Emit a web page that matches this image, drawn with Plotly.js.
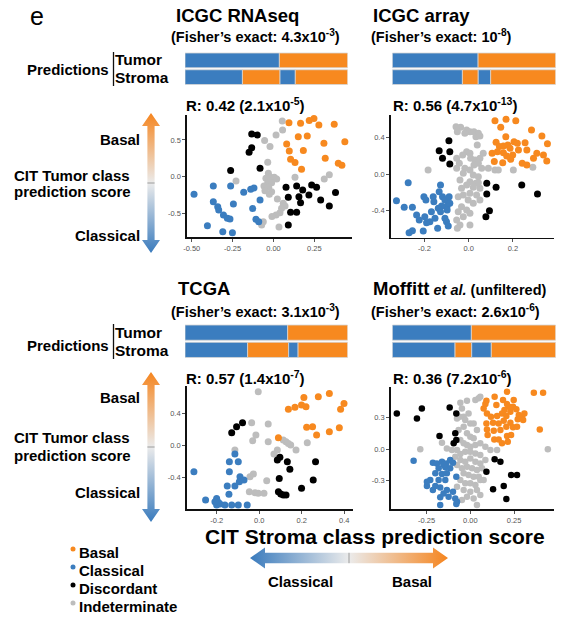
<!DOCTYPE html>
<html><head><meta charset="utf-8">
<script src="https://cdn.plot.ly/plotly-3.0.1.min.js"></script>
<style>html,body{margin:0;padding:0;background:#fff;} #chart{width:564px;height:625px;}</style>
</head><body><div id="chart"></div>
<script>
const W = 564, H = 625;
const classNames = ['Basal', 'Classical', 'Discordant', 'Indeterminate'];
const classColors = ['#f7891f', '#3b7dbf', '#000000', '#bdbdbd'];
const FONT = 'Liberation Sans, Arial, Helvetica, sans-serif';

// ---------- ICGC RNAseq ----------
const rnaseqBasal = [[0.095,0.736],[0.166,0.727],[0.219,0.764],[0.248,0.791],[0.278,0.705],[0.372,0.714],[0.152,0.545],[0.207,0.555],[0.081,0.445],[0.309,0.455],[0.437,0.477],[0.097,0.350],[0.183,0.355],[0.317,0.250],[0.105,0.236],[0.132,0.191],[0.172,0.100],[0.397,0.182],[0.419,0.155]];
const rnaseqClassical = [[-0.486,-0.241],[-0.368,-0.127],[-0.262,-0.127],[-0.182,-0.214],[-0.139,-0.173],[-0.119,-0.155],[-0.368,-0.341],[-0.341,-0.409],[-0.335,-0.455],[-0.245,-0.373],[-0.082,-0.318],[-0.306,-0.523],[-0.282,-0.568],[-0.266,-0.577],[-0.127,-0.436],[-0.107,-0.582],[-0.090,-0.614],[-0.404,-0.668],[-0.310,-0.750],[-0.251,-0.764]];
const rnaseqDiscordant = [[-0.133,0.582],[-0.099,0.568],[-0.133,0.395],[-0.149,0.332],[-0.262,0.082],[-0.082,0.114],[0.077,-0.145],[0.142,-0.127],[0.234,-0.114],[0.264,-0.145],[0.179,-0.182],[0.091,-0.282],[0.156,-0.273],[0.217,-0.250],[0.380,-0.218],[0.289,-0.318],[0.166,-0.355],[0.342,-0.400],[0.105,-0.486],[0.142,-0.486],[0.091,-0.659]];
const rnaseqIndet = [[0.054,0.759],[0.056,0.636],[0.016,0.568],[-0.054,0.491],[-0.021,0.409],[-0.035,0.195],[-0.229,-0.059],[0.132,-0.009],[0.311,-0.032],[0.342,0.027],[-0.031,0.045],[-0.046,-0.023],[-0.017,-0.009],[0.005,-0.009],[0.020,-0.032],[-0.035,-0.082],[-0.011,-0.082],[-0.058,-0.127],[-0.029,-0.145],[-0.052,-0.191],[-0.011,-0.205],[-0.025,-0.241],[0.024,-0.305],[0.060,-0.364],[0.071,-0.400],[0.050,-0.432],[0.040,-0.491],[0.016,-0.523],[-0.009,-0.545],[-0.062,-0.614],[-0.072,-0.659],[0.034,-0.686]];
const rnaseqXTicks = [-0.5, -0.25, 0, 0.25], rnaseqXLabels = ['-0.50', '-0.25', '0.00', '0.25'];
const rnaseqYTicks = [-0.5, 0, 0.5], rnaseqYLabels = ['-0.5', '0.0', '0.5'];

// ---------- ICGC array ----------
const arrayBasal = [[0.119,0.590],[0.169,0.605],[0.213,0.590],[0.284,0.487],[0.145,0.517],[0.168,0.413],[0.205,0.358],[0.124,0.351],[0.220,0.339],[0.255,0.347],[0.331,0.421],[0.356,0.336],[0.139,0.303],[0.157,0.310],[0.177,0.321],[0.187,0.284],[0.157,0.236],[0.130,0.247],[0.106,0.229],[0.199,0.210],[0.225,0.266],[0.263,0.266],[0.308,0.229],[0.338,0.210],[0.353,0.144],[0.293,0.173],[0.242,0.118],[0.263,0.100],[0.154,0.125],[0.116,0.137],[0.190,0.162],[0.172,0.199]];
const arrayClassical = [[-0.273,-0.096],[-0.326,-0.295],[-0.291,-0.369],[-0.254,-0.369],[-0.235,-0.454],[-0.269,-0.649],[-0.205,-0.631],[-0.175,-0.528],[-0.152,-0.491],[-0.140,-0.601],[-0.202,-0.251],[-0.193,-0.288],[-0.160,-0.251],[-0.127,-0.122],[-0.133,-0.196],[-0.118,-0.251],[-0.107,-0.288],[-0.097,-0.354],[-0.085,-0.325],[-0.088,-0.251],[-0.122,-0.354],[-0.137,-0.380],[-0.097,-0.399],[-0.107,-0.491],[-0.100,-0.528],[-0.092,-0.576],[-0.127,-0.417],[-0.168,-0.417],[-0.198,-0.472],[-0.223,-0.509],[-0.190,-0.539],[-0.157,-0.306],[-0.254,-0.627]];
const arrayDiscordant = [[-0.089,0.369],[-0.133,0.258],[-0.085,0.247],[-0.118,0.173],[-0.085,0.111],[0.082,-0.103],[0.124,-0.148],[0.082,-0.221],[0.240,-0.122],[0.311,-0.221],[0.094,-0.406],[0.078,-0.472]];
const arrayIndet = [[-0.057,0.524],[-0.036,0.517],[-0.009,0.487],[0.006,0.469],[0.024,0.469],[0.044,0.450],[-0.051,0.469],[-0.017,0.450],[0.033,0.413],[0.051,0.421],[0.039,0.321],[-0.009,0.247],[0.006,0.229],[-0.027,0.210],[-0.054,0.173],[-0.042,0.118],[0.009,0.173],[0.029,0.155],[0.051,0.173],[0.066,0.229],[0.044,0.118],[0.024,0.100],[0.059,0.063],[0.089,0.063],[0.119,0.044],[0.134,0.044],[0.202,0.044],[0.290,0.074],[-0.183,0.044],[-0.054,0.063],[-0.017,0.063],[0.006,0.044],[-0.024,0.007],[0.021,-0.011],[0.044,-0.030],[-0.039,-0.066],[0.006,-0.085],[0.033,-0.103],[-0.009,-0.122],[-0.032,-0.159],[0.021,-0.148],[0.051,-0.159],[0.006,-0.214],[-0.024,-0.232],[0.036,-0.232],[-0.047,-0.251],[-0.002,-0.288],[0.051,-0.288],[0.021,-0.325],[-0.032,-0.362],[-0.009,-0.399],[-0.047,-0.417],[0.006,-0.435],[-0.024,-0.472],[-0.054,-0.509],[-0.039,-0.565],[0.006,-0.565],[-0.051,-0.601],[0.044,-0.096]];
const arrayXTicks = [-0.2, 0, 0.2], arrayXLabels = ['-0.2', '0.0', '0.2'];
const arrayYTicks = [-0.4, 0, 0.4], arrayYLabels = ['-0.4', '0.0', '0.4'];

// ---------- TCGA ----------
const tcgaBasal = [[0.210,0.606],[0.278,0.615],[0.330,0.656],[0.399,0.531],[0.383,0.456],[0.199,0.510],[0.168,0.481],[0.137,0.456],[0.220,0.489],[0.223,0.230],[0.251,0.238],[0.270,0.134],[0.330,0.176],[0.377,0.226],[0.090,0.100]];
const tcgaClassical = [[-0.308,-0.326],[-0.115,-0.105],[-0.141,-0.201],[-0.099,-0.201],[-0.141,-0.326],[-0.091,-0.389],[-0.094,-0.452],[-0.072,-0.431],[-0.151,-0.506],[-0.115,-0.506],[-0.143,-0.610],[-0.253,-0.681],[-0.201,-0.661],[-0.193,-0.711],[-0.185,-0.732],[-0.162,-0.744],[-0.201,-0.744],[-0.130,-0.744],[-0.099,-0.744],[-0.057,-0.744],[-0.209,-0.702]];
const tcgaDiscordant = [[-0.079,0.288],[-0.107,0.238],[-0.130,0.163],[0.085,-0.180],[0.097,-0.146],[0.132,-0.201],[0.144,-0.297],[0.094,-0.410],[0.265,-0.201],[0.254,-0.431],[0.199,-0.535],[0.090,-0.577],[0.101,-0.606],[0.113,-0.619],[0.126,-0.619]];
const tcgaIndet = [[-0.005,0.677],[-0.036,0.288],[0.042,0.272],[-0.016,0.134],[-0.031,0.063],[0.042,0.050],[0.113,0.071],[0.126,0.050],[0.137,0.029],[0.148,0.008],[0.173,-0.054],[0.226,0.038],[0.085,-0.054],[0.069,-0.105],[-0.115,-0.054],[-0.028,-0.355],[-0.044,-0.389],[0.035,-0.439],[-0.047,-0.577],[-0.020,-0.589],[-0.005,-0.598],[0.022,-0.598]];
const tcgaXTicks = [-0.2, 0, 0.2, 0.4], tcgaXLabels = ['-0.2', '0.0', '0.2', '0.4'];
const tcgaYTicks = [-0.8, -0.4, 0, 0.4], tcgaYLabels = ['-0.8', '-0.4', '0.0', '0.4'];

// ---------- Moffitt ----------
const moffittBasal = [[0.092,0.465],[0.139,0.504],[0.210,0.552],[0.363,0.542],[0.416,0.542],[0.086,0.433],[0.149,0.423],[0.210,0.433],[0.219,0.407],[0.195,0.375],[0.229,0.359],[0.244,0.407],[0.263,0.382],[0.277,0.327],[0.296,0.311],[0.309,0.343],[0.302,0.279],[0.181,0.343],[0.153,0.318],[0.206,0.318],[0.095,0.343],[0.118,0.311],[0.092,0.247],[0.130,0.253],[0.162,0.247],[0.191,0.273],[0.229,0.253],[0.271,0.286],[0.206,0.215],[0.244,0.209],[0.267,0.215],[0.095,0.189],[0.134,0.176],[0.172,0.183],[0.099,0.135],[0.137,0.093],[0.162,0.093],[0.181,0.055],[0.210,0.125],[0.233,0.135],[0.214,0.071],[0.397,0.189],[0.076,0.391],[0.248,0.472],[0.187,0.472]];
const moffittClassical = [[-0.324,-0.112],[-0.214,-0.132],[-0.191,-0.138],[-0.162,-0.122],[-0.137,-0.138],[-0.115,-0.106],[-0.099,-0.132],[-0.143,-0.176],[-0.115,-0.186],[-0.181,-0.186],[-0.200,-0.234],[-0.162,-0.241],[-0.134,-0.234],[-0.080,-0.266],[-0.229,-0.298],[-0.181,-0.298],[-0.143,-0.298],[-0.248,-0.356],[-0.200,-0.356],[-0.172,-0.369],[-0.214,-0.395],[-0.153,-0.427],[-0.134,-0.395],[-0.099,-0.411],[-0.172,-0.465],[-0.124,-0.459],[-0.086,-0.475],[-0.076,-0.507],[-0.172,-0.539],[-0.080,-0.529],[-0.248,-0.314],[-0.153,-0.154]];
const moffittDiscordant = [[-0.420,0.343],[-0.305,0.295],[-0.277,0.391],[-0.118,0.401],[-0.080,0.343],[-0.176,0.125],[-0.086,0.151],[-0.080,0.087],[-0.095,0.055],[0.139,-0.099],[0.172,-0.122],[0.092,-0.218],[0.233,-0.250],[0.267,-0.250],[0.130,-0.388],[0.191,-0.356],[0.206,-0.481]];
const moffittIndet = [[-0.057,0.446],[-0.019,0.465],[0.029,0.472],[0.048,0.488],[0.057,0.504],[-0.048,0.391],[-0.076,0.295],[-0.061,0.311],[-0.038,0.311],[-0.010,0.343],[-0.029,0.279],[0.000,0.247],[0.019,0.247],[0.038,0.183],[-0.038,0.215],[-0.067,0.183],[-0.019,0.151],[0.000,0.119],[0.019,0.103],[-0.057,0.087],[-0.038,0.055],[-0.019,0.038],[0.000,0.022],[0.029,0.038],[0.057,0.055],[0.086,0.022],[0.115,-0.010],[0.153,-0.010],[0.443,-0.003],[-0.286,-0.003],[-0.162,0.061],[-0.134,0.006],[-0.105,-0.010],[-0.076,-0.010],[-0.057,-0.048],[-0.029,-0.026],[0.000,-0.026],[0.029,-0.042],[0.057,-0.058],[-0.086,-0.074],[-0.057,-0.106],[-0.029,-0.122],[0.000,-0.090],[0.029,-0.122],[0.057,-0.138],[0.086,-0.106],[-0.076,-0.154],[-0.048,-0.186],[-0.019,-0.170],[0.010,-0.186],[0.038,-0.202],[0.067,-0.186],[-0.038,-0.234],[-0.010,-0.250],[0.019,-0.266],[0.048,-0.266],[-0.057,-0.298],[-0.029,-0.330],[0.000,-0.330],[0.029,-0.346],[0.057,-0.298],[-0.076,-0.363],[-0.038,-0.395],[0.000,-0.411],[0.038,-0.395],[-0.019,-0.459],[0.019,-0.475],[0.057,-0.443],[-0.048,-0.491],[0.038,-0.539],[0.076,-0.298]];
const moffittXTicks = [-0.25, 0, 0.25], moffittXLabels = ['-0.25', '0.00', '0.25'];
const moffittYTicks = [-0.3, 0, 0.3], moffittYLabels = ['-0.3', '0.0', '0.3'];

// ---------- prediction bars (fraction of samples along the bar) ----------
const predRows = ['Stroma', 'Tumor'];
const tumorClassicalFrac = [0.58, 0.525, 0.631, 0.484];          // Tumor: classical then basal
const stromaBreaks = [[0.353, 0.584, 0.678], [0.429, 0.526, 0.602], [0.385, 0.637, 0.695], [0.384, 0.486, 0.606]]; // Classical|Basal|Classical|Basal

// ---------- texts ----------
const datasetTitles = ['ICGC RNAseq', 'ICGC array', 'TCGA', 'Moffitt'];
const fisherTexts = ['4.3x10<sup>-3</sup>', '10<sup>-8</sup>', '3.1x10<sup>-3</sup>', '2.6x10<sup>-6</sup>'];
const corrTexts = ['R: 0.42 (2.1x10<sup>-5</sup>)', 'R: 0.56 (4.7x10<sup>-13</sup>)', 'R: 0.57 (1.4x10<sup>-7</sup>)', 'R: 0.36 (7.2x10<sup>-6</sup>)'];

// ---------- layout geometry (pixels) ----------
const px = v => v / W, py = v => 1 - v / H;
const geo = [
  {xd: [187, 351.7], yd: [115, 237], xr: [-0.529, 0.479], yr: [-0.823, 0.84], bx: [185, 347.7], by: [52, 85.5], tx: 174, ty: 15, fx: 169, fy: 36, ry: 104},
  {xd: [390.7, 554.3], yd: [115, 237.7], xr: [-0.352, 0.387], yr: [-0.705, 0.653], bx: [392.3, 555.7], by: [52, 85.5], tx: 371, ty: 15, fx: 369, fy: 36, ry: 104},
  {xd: [186.7, 352.7], yd: [386, 509.3], xr: [-0.342, 0.44], yr: [-0.798, 0.749], bx: [185, 347.7], by: [324, 358.5], tx: 176, ty: 289, fx: 169, fy: 311, ry: 377},
  {xd: [390.7, 554.3], yd: [386.7, 509.3], xr: [-0.455, 0.48], yr: [-0.58, 0.6], bx: [392.3, 555.7], by: [324, 358.5], tx: 371, ty: 289, fx: 369, fy: 311, ry: 377}
];
const panelData = [
  {pts: [rnaseqBasal, rnaseqClassical, rnaseqDiscordant, rnaseqIndet], xt: rnaseqXTicks, xl: rnaseqXLabels, yt: rnaseqYTicks, yl: rnaseqYLabels},
  {pts: [arrayBasal, arrayClassical, arrayDiscordant, arrayIndet], xt: arrayXTicks, xl: arrayXLabels, yt: arrayYTicks, yl: arrayYLabels},
  {pts: [tcgaBasal, tcgaClassical, tcgaDiscordant, tcgaIndet], xt: tcgaXTicks, xl: tcgaXLabels, yt: tcgaYTicks, yl: tcgaYLabels},
  {pts: [moffittBasal, moffittClassical, moffittDiscordant, moffittIndet], xt: moffittXTicks, xl: moffittXLabels, yt: moffittYTicks, yl: moffittYLabels}
];

const traces = [];
const layout = {
  width: W, height: H, margin: {l: 0, r: 0, t: 0, b: 0},
  paper_bgcolor: '#fff', plot_bgcolor: 'rgba(0,0,0,0)', showlegend: false,
  font: {family: FONT, color: '#000'}, barmode: 'overlay', bargap: 0.12,
  annotations: [], shapes: []
};

const drawOrder = [3, 2, 1, 0];
panelData.forEach((p, i) => {
  const g = geo[i], n = i + 1, sfx = n === 1 ? '' : String(n);
  drawOrder.forEach(c => {
    traces.push({
      type: 'scatter', mode: 'markers', xaxis: 'x' + sfx, yaxis: 'y' + sfx,
      x: p.pts[c].map(d => d[0]), y: p.pts[c].map(d => d[1]), name: classNames[c],
      marker: {color: classColors[c], size: i === 3 ? 6.5 : 7, line: {width: 0}}, hoverinfo: 'skip'
    });
  });
  const axCommon = {showgrid: false, zeroline: false, showline: true, linecolor: '#111', linewidth: 1.6,
    ticks: 'outside', ticklen: 3, tickwidth: 1, tickcolor: '#555', tickfont: {size: 7.5, color: '#555', family: FONT}, fixedrange: true};
  layout['xaxis' + sfx] = Object.assign({}, axCommon, {domain: [px(g.xd[0]), px(g.xd[1])], range: g.xr, anchor: 'y' + sfx,
    tickmode: 'array', tickvals: p.xt, ticktext: p.xl});
  layout['yaxis' + sfx] = Object.assign({}, axCommon, {domain: [py(g.yd[1]), py(g.yd[0])], range: g.yr, anchor: 'x' + sfx,
    tickmode: 'array', tickvals: p.yt, ticktext: p.yl});

  // prediction bars
  const bn = String(n + 4);
  layout['xaxis' + bn] = {domain: [px(g.bx[0]), px(g.bx[1])], range: [0, 1], visible: false, anchor: 'y' + bn, fixedrange: true};
  layout['yaxis' + bn] = {domain: [py(g.by[1]), py(g.by[0])], type: 'category', categoryorder: 'array', categoryarray: predRows,
    range: [-0.5, 1.5], visible: false, anchor: 'x' + bn, fixedrange: true};
  const t = tumorClassicalFrac[i], s = stromaBreaks[i];
  traces.push({type: 'bar', orientation: 'h', xaxis: 'x' + bn, yaxis: 'y' + bn,
    y: ['Tumor', 'Tumor'], base: [0, t], x: [t, 1 - t],
    marker: {color: [classColors[1], classColors[0]], line: {color: '#d6d6d6', width: 0.8}}, hoverinfo: 'skip'});
  traces.push({type: 'bar', orientation: 'h', xaxis: 'x' + bn, yaxis: 'y' + bn,
    y: ['Stroma', 'Stroma', 'Stroma', 'Stroma'], base: [0, s[0], s[1], s[2]], x: [s[0], s[1] - s[0], s[2] - s[1], 1 - s[2]],
    marker: {color: [classColors[1], classColors[0], classColors[1], classColors[0]], line: {color: '#d6d6d6', width: 0.8}}, hoverinfo: 'skip'});

  // titles
  const A = layout.annotations;
  if (i === 3) {
    A.push({xref: 'paper', yref: 'paper', x: px(g.tx), y: py(g.ty), xanchor: 'left', yanchor: 'middle', showarrow: false,
      text: '<b>' + datasetTitles[i] + '</b><span style="font-size:14.5px"><b> <i>et al.</i> (unfiltered)</b></span>', font: {size: 18.5}});
  } else {
    A.push({xref: 'paper', yref: 'paper', x: px(g.tx), y: py(g.ty), xanchor: 'left', yanchor: 'middle', showarrow: false,
      text: '<b>' + datasetTitles[i] + '</b>', font: {size: 18.5}});
  }
  A.push({xref: 'paper', yref: 'paper', x: px(g.fx), y: py(g.fy), xanchor: 'left', yanchor: 'middle', showarrow: false,
    text: '<b>(Fisher’s exact: ' + fisherTexts[i] + ')</b>', font: {size: 14.5}});
  A.push({xref: 'paper', yref: 'paper', x: px(g.bx[0] - 1), y: py(g.ry), xanchor: 'left', yanchor: 'middle', showarrow: false,
    text: '<b>' + corrTexts[i] + '</b>', font: {size: 15}});
});

const A = layout.annotations;
function txt(t, x, y, xa, size, extra) {
  A.push(Object.assign({xref: 'paper', yref: 'paper', x: px(x), y: py(y), xanchor: xa, yanchor: 'middle', showarrow: false,
    text: t, font: {size: size}}, extra || {}));
}
txt('e', 28, 16, 'left', 25);
// prediction labels
[[70, 60, 77.5, 52, 86], [345, 332.5, 350, 324, 359]].forEach(r => {
  txt('<b>Predictions</b>', 111, r[0], 'right', 15);
  txt('<b>Tumor</b>', 113, r[1], 'left', 15.5);
  txt('<b>Stroma</b>', 113, r[2], 'left', 15.5);
  layout.shapes.push({type: 'line', xref: 'paper', yref: 'paper', x0: px(113.5), x1: px(113.5), y0: py(r[3]), y1: py(r[4]),
    line: {color: '#111', width: 1.3}});
});
// tumor score labels
[[140, 175, 192, 235], [397, 437, 455, 492]].forEach(r => {
  txt('<b>Basal</b>', 142, r[0], 'right', 15);
  txt('<b>CIT Tumor class</b>', 12, r[1], 'left', 15);
  txt('<b>prediction score</b>', 12, r[2], 'left', 15);
  txt('<b>Classical</b>', 142, r[3], 'right', 15);
});
// stroma axis
txt('<b>CIT Stroma class prediction score</b>', 375, 536, 'center', 21);
txt('<b>Classical</b>', 300, 581, 'center', 15);
txt('<b>Basal</b>', 412, 581, 'center', 15);
// legend labels
const legendY = [552, 570, 588, 606];
classNames.forEach((c, k) => txt('<b>' + c + '</b>', 77, legendY[k], 'left', 15));

// overlay pixel axis for arrows and legend keys
layout.xaxis9 = {domain: [0, 1], range: [0, W], visible: false, anchor: 'y9', fixedrange: true};
layout.yaxis9 = {domain: [0, 1], range: [H, 0], visible: false, anchor: 'x9', fixedrange: true};
const gradV = [[0, '#f5851f'], [0.5, '#ebebeb'], [1, '#3a7bbd']];
const gradH = [[0, '#3a7bbd'], [0.5, '#ebebeb'], [1, '#f5851f']];
function vArrow(cx, y0, y1) {
  const hl = 13, hw = 9, sw = 3.6;
  const xs = [cx, cx + hw, cx + sw, cx + sw, cx + hw, cx, cx - hw, cx - sw, cx - sw, cx - hw, cx];
  const ys = [y0, y0 + hl, y0 + hl, y1 - hl, y1 - hl, y1, y1 - hl, y1 - hl, y0 + hl, y0 + hl, y0];
  traces.push({type: 'scatter', mode: 'lines', xaxis: 'x9', yaxis: 'y9', x: xs, y: ys, fill: 'toself',
    line: {color: 'rgba(0,0,0,0)', width: 0}, fillgradient: {type: 'vertical', colorscale: gradV, start: y0, stop: y1}, hoverinfo: 'skip'});
  const ym = (y0 + y1) / 2;
  traces.push({type: 'scatter', mode: 'lines', xaxis: 'x9', yaxis: 'y9', x: [cx - sw, cx + sw], y: [ym, ym],
    line: {color: '#9a9a9a', width: 1}, hoverinfo: 'skip'});
}
function hArrow(cy, x0, x1) {
  const hl = 15, hw = 10.5, sw = 5.2;
  const xs = [x0, x0 + hl, x0 + hl, x1 - hl, x1 - hl, x1, x1 - hl, x1 - hl, x0 + hl, x0 + hl, x0];
  const ys = [cy, cy - hw, cy - sw, cy - sw, cy - hw, cy, cy + hw, cy + sw, cy + sw, cy + hw, cy];
  traces.push({type: 'scatter', mode: 'lines', xaxis: 'x9', yaxis: 'y9', x: xs, y: ys, fill: 'toself',
    line: {color: 'rgba(0,0,0,0)', width: 0}, fillgradient: {type: 'horizontal', colorscale: gradH, start: x0, stop: x1}, hoverinfo: 'skip'});
  const xm = (x0 + x1) / 2;
  traces.push({type: 'scatter', mode: 'lines', xaxis: 'x9', yaxis: 'y9', x: [xm, xm], y: [cy - sw, cy + sw],
    line: {color: '#9a9a9a', width: 1}, hoverinfo: 'skip'});
}
vArrow(151, 113, 253);
vArrow(151, 372, 522);
hArrow(558, 250, 448);
traces.push({type: 'scatter', mode: 'markers', xaxis: 'x9', yaxis: 'y9',
  x: classNames.map(() => 73), y: legendY.map(v => v - 3),
  marker: {color: classColors, size: 5}, hoverinfo: 'skip'});

Plotly.newPlot('chart', traces, layout, {staticPlot: true, displayModeBar: false});
</script>
</body></html>
